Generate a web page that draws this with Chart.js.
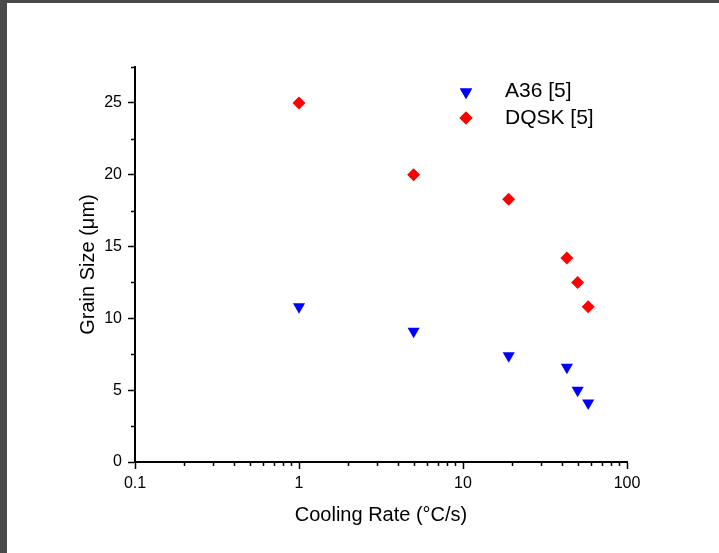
<!DOCTYPE html>
<html>
<head>
<meta charset="utf-8">
<script src="https://cdn.jsdelivr.net/npm/chart.js"></script>
<style>
  html, body { margin: 0; padding: 0; background: #fff; }
  #wrap { position: relative; width: 719px; height: 553px; }
  .edge { position: absolute; background: #4a4a4a; }
</style>
</head>
<body>
<div id="wrap">
  <canvas id="grain-chart" width="719" height="553"></canvas>
  <div class="edge" style="left:0;top:0;width:719px;height:3px"></div>
  <div class="edge" style="left:0;top:0;width:7px;height:553px"></div>
</div>
<script>
// ── data ──
const coolingRate = [1, 5, 19, 43, 50, 58];      // °C/s
const a36Grain    = [10.8, 9.1, 7.4, 6.6, 5.0, 4.1];
const dqskGrain   = [25, 20, 18.3, 14.2, 12.5, 10.8];

const xTicks = [0.1, 1, 10, 100];
const yTicks = [0, 5, 10, 15, 20, 25];
const yMinor = [2.5, 7.5, 12.5, 17.5, 22.5, 27.5];

const seriesNames = ['A36 [5]', 'DQSK [5]'];

const FONT = "'Liberation Sans', Arial, sans-serif";

const toPoints = ys => coolingRate.map((x, i) => ({ x: x, y: ys[i] }));

// minor ticks + legend drawn on top of the chart
const extras = {
  id: 'extras',
  afterDraw(chart) {
    const c = chart.ctx;
    const xs = chart.scales.x, ys = chart.scales.y;
    const area = chart.chartArea;
    c.save();
    c.strokeStyle = '#000';
    c.lineWidth = 1.5;
    c.beginPath();
    // y minor ticks (outside, to the left)
    yMinor.forEach(v => {
      const py = Math.round(ys.getPixelForValue(v)) + 0.5;
      c.moveTo(area.left, py);
      c.lineTo(area.left - 4, py);
    });
    // x minor ticks (below the axis)
    for (let d = 0; d < xTicks.length - 1; d++) {
      for (let m = 2; m <= 9; m++) {
        const px = Math.round(xs.getPixelForValue(xTicks[d] * m)) + 0.5;
        c.moveTo(px, area.bottom);
        c.lineTo(px, area.bottom + 4);
      }
    }
    c.stroke();

    // legend
    const lx = 466, tx = 505;
    const rows = [91, 118];
    c.font = '21px ' + FONT;
    c.fillStyle = '#000';
    c.textBaseline = 'middle';
    chart.data.datasets.forEach((ds, i) => {
      Chart.helpers.drawPoint(c, {
        pointStyle: ds.pointStyle,
        rotation: ds.rotation || 0,
        borderWidth: 0
      }, lx, rows[i] + (ds.rotation ? 1 : 0));
      c.fillStyle = ds.backgroundColor;
      c.beginPath();
      Chart.helpers.drawPoint(c, {
        pointStyle: ds.pointStyle,
        rotation: ds.rotation || 0,
        radius: ds.pointRadius,
        borderWidth: 0
      }, lx, rows[i] + (ds.rotation ? 1 : 0));
      c.fill();
      c.fillStyle = '#000';
      c.fillText(seriesNames[i], tx, rows[i]);
    });
    c.restore();
  }
};

const ctx = document.getElementById('grain-chart').getContext('2d');

new Chart(ctx, {
  type: 'scatter',
  data: {
    datasets: [
      {
        label: seriesNames[0],
        data: toPoints(a36Grain),
        pointStyle: 'triangle',
        rotation: 180,
        pointRadius: 7,
        backgroundColor: '#0000ff',
        borderColor: '#0000ff',
        borderWidth: 0
      },
      {
        label: seriesNames[1],
        data: toPoints(dqskGrain),
        pointStyle: 'rectRot',
        pointRadius: 6.5,
        backgroundColor: '#ff0000',
        borderColor: '#ff0000',
        borderWidth: 0
      }
    ]
  },
  options: {
    responsive: false,
    animation: false,
    layout: { padding: { left: 0, right: 92, top: 67, bottom: 0 } },
    plugins: {
      legend: { display: false },
      tooltip: { enabled: false }
    },
    scales: {
      x: {
        type: 'logarithmic',
        min: 0.1,
        max: 100,
        afterBuildTicks: s => { s.ticks = xTicks.map(v => ({ value: v })); },
        afterFit: s => { s.height = 91; },
        border: { display: true, color: '#000', width: 2 },
        grid: { drawOnChartArea: false, drawTicks: true, tickLength: 7, tickColor: '#000', tickWidth: 1.5 },
        ticks: {
          color: '#000',
          padding: 5,
          maxRotation: 0,
          font: { family: FONT, size: 16 },
          callback: v => String(v)
        },
        title: {
          display: true,
          text: 'Cooling Rate (°C/s)',
          color: '#000',
          font: { family: FONT, size: 20 },
          padding: { top: 26, bottom: 26 }
        }
      },
      y: {
        min: 0,
        max: 27.5,
        afterBuildTicks: s => { s.ticks = yTicks.map(v => ({ value: v })); },
        afterFit: s => { s.width = 135; },
        border: { display: true, color: '#000', width: 2 },
        grid: { drawOnChartArea: false, drawTicks: true, tickLength: 7, tickColor: '#000', tickWidth: 1.5 },
        ticks: {
          color: '#000',
          padding: 6,
          font: { family: FONT, size: 16 }
        },
        title: {
          display: true,
          text: 'Grain Size (μm)',
          color: '#000',
          font: { family: FONT, size: 20 },
          padding: { top: 76, bottom: 76 }
        }
      }
    }
  },
  plugins: [extras]
});
</script>
</body>
</html>
